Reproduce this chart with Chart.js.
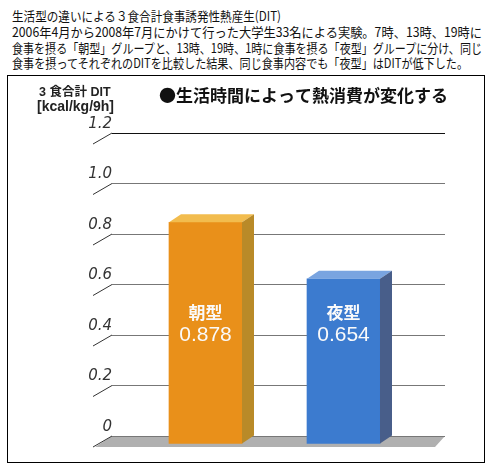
<!DOCTYPE html>
<html lang="ja">
<head>
<meta charset="utf-8">
<script src="https://cdn.jsdelivr.net/npm/chart.js@4/dist/chart.umd.min.js"></script>
<style>
  html, body { margin: 0; padding: 0; background: #fff; }
  body { width: 494px; height: 468px; position: relative; overflow: hidden; }
  .hdr { position: absolute; left: 12px; white-space: nowrap; font-family: "Noto Sans CJK JP", sans-serif;
         font-size: 13px; line-height: 15px; color: #111; transform-origin: 0 0; }
  #box { position: absolute; left: 7px; top: 75px; width: 476px; height: 386px; border: 1px solid #000; }
  #wrap { position: absolute; left: 0; top: 0; width: 494px; height: 468px; }
</style>
</head>
<body>
<div class="hdr" data-w="269" style="top:8px">生活型の違いによる３食合計食事誘発性熱産生(DIT)</div>
<div class="hdr" data-w="470" style="top:24px">2006年4月から2008年7月にかけて行った大学生33名による実験。7時、13時、19時に</div>
<div class="hdr" data-w="470" style="top:40px">食事を摂る「朝型」グループと、13時、19時、1時に食事を摂る「夜型」グループに分け、同じ</div>
<div class="hdr" data-w="456" style="top:55px">食事を摂ってそれぞれのDITを比較した結果、同じ食事内容でも「夜型」はDITが低下した。</div>
<div id="box"></div>
<div id="wrap"><canvas id="chart"></canvas></div>
<script>
// --- Dados ---
const groups = ['朝型', '夜型'];
const ditValues = [0.878, 0.654];
const valueLabels = ['0.878', '0.654'];
const yTickLabels = ['0', '0.2', '0.4', '0.6', '0.8', '1.0', '1.2'];
const chartTitle = '●生活時間によって熱消費が変化する';
const yTitle = ['3 食合計 DIT', '[kcal/kg/9h]'];

// --- Cores das faces ---
const frontColors = ['#e9901a', '#3c7bcf'];
const sideColors = ['#b98a28', '#485e8a'];
const topColors = ['#f2bc4e', '#79a4e0'];
const DX = 12, DY = 8; // profundidade 3D

// Ajusta a largura das linhas do cabeçalho
document.querySelectorAll('.hdr').forEach(el => {
    const w = el.getBoundingClientRect().width;
    el.style.transform = `scaleX(${el.dataset.w / w})`;
});

const bar3d = {
    id: 'bar3d',
    beforeDatasetsDraw(chart) {
        const { ctx, chartArea } = chart;
        const y0 = chart.scales.y.getPixelForValue(0);
        // chão cinza
        ctx.save();
        ctx.fillStyle = '#b0b0b0';
        ctx.beginPath();
        ctx.moveTo(chartArea.left, y0);
        ctx.lineTo(chartArea.right, y0);
        ctx.lineTo(chartArea.right - 10, y0 + 11);
        ctx.lineTo(chartArea.left - 17, y0 + 11);
        ctx.closePath();
        ctx.fill();
        ctx.strokeStyle = '#777';
        ctx.lineWidth = 1;
        ctx.beginPath();
        ctx.moveTo(chartArea.left, y0 + 0.5);
        ctx.lineTo(chartArea.right, y0 + 0.5);
        ctx.stroke();
        // traços inclinados dos ticks
        ctx.strokeStyle = '#333';
        chart.scales.y.ticks.forEach(t => {
            const y = chart.scales.y.getPixelForValue(t.value);
            ctx.beginPath();
            ctx.moveTo(chartArea.left, y);
            ctx.lineTo(chartArea.left - 19, y + 11);
            ctx.stroke();
        });
        ctx.restore();
        // face frontal deslocada para frente
        ctx.save();
        ctx.translate(0, DY);
    },
    afterDatasetsDraw(chart) {
        const { ctx } = chart;
        ctx.restore();
        const meta = chart.getDatasetMeta(0);
        const y0 = chart.scales.y.getPixelForValue(0);
        ctx.save();
        meta.data.forEach((bar, i) => {
            const l = bar.x - bar.width / 2, r = bar.x + bar.width / 2;
            // topo
            ctx.fillStyle = topColors[i];
            ctx.beginPath();
            ctx.moveTo(l, bar.y + DY);
            ctx.lineTo(r, bar.y + DY);
            ctx.lineTo(r + DX, bar.y);
            ctx.lineTo(l + DX, bar.y);
            ctx.closePath();
            ctx.fill();
            // lateral
            ctx.fillStyle = sideColors[i];
            ctx.beginPath();
            ctx.moveTo(r, bar.y + DY);
            ctx.lineTo(r + DX, bar.y);
            ctx.lineTo(r + DX, bar.base);
            ctx.lineTo(r, bar.base + DY);
            ctx.closePath();
            ctx.fill();
            // rótulos dentro das barras
            ctx.fillStyle = '#fafafa';
            ctx.textAlign = 'center';
            ctx.textBaseline = 'middle';
            ctx.font = 'bold 17px "Noto Sans CJK JP", sans-serif';
            ctx.fillText(groups[i], bar.x, y0 - 123);
            ctx.font = '21px "Liberation Sans", Arial, sans-serif';
            ctx.fillText(valueLabels[i], bar.x, y0 - 101);
        });
        ctx.restore();
    },
    afterDraw(chart) {
        const { ctx } = chart;
        ctx.save();
        ctx.fillStyle = '#111';
        ctx.textBaseline = 'middle';
        ctx.textAlign = 'left';
        ctx.font = 'bold 17px "Noto Sans CJK JP", sans-serif';
        ctx.fillText(chartTitle, 159, 96);
        ctx.fillStyle = '#222';
        ctx.font = 'bold 12.5px "Liberation Sans", "Noto Sans CJK JP", sans-serif';
        ctx.fillText(yTitle[0], 39, 93);
        ctx.font = 'bold 14px "Liberation Sans", sans-serif';
        ctx.fillText(yTitle[1], 37, 107);
        ctx.restore();
    }
};

new Chart(document.getElementById('chart'), {
    type: 'bar',
    data: {
        datasets: [{
            data: groups.map((g, i) => ({ x: i, y: ditValues[i] })),
            backgroundColor: frontColors,
            borderWidth: 0,
            barThickness: 73,
            clip: false
        }]
    },
    options: {
        responsive: true,
        maintainAspectRatio: false,
        animation: false,
        layout: { padding: { left: 0, right: 49, top: 133, bottom: 32 } },
        plugins: { legend: { display: false }, tooltip: { enabled: false } },
        scales: {
            x: { type: 'linear', min: -0.6775, max: 1.7355, bounds: 'data', offset: false, display: false },
            y: {
                min: 0, max: 1.2,
                afterFit: s => { s.width = 112; },
                ticks: {
                    stepSize: 0.2,
                    callback: (v, i) => yTickLabels[i],
                    padding: 0,
                    labelOffset: -9,
                    color: '#333',
                    font: { family: '"DejaVu Sans", sans-serif', size: 15, style: 'italic', weight: 200 }
                },
                grid: {
                    drawTicks: false,
                    color: ctx => ctx.index === yTickLabels.length - 1 ? '#111' : '#777'
                },
                border: { display: false }
            }
        }
    },
    plugins: [bar3d]
});
</script>
</body>
</html>
